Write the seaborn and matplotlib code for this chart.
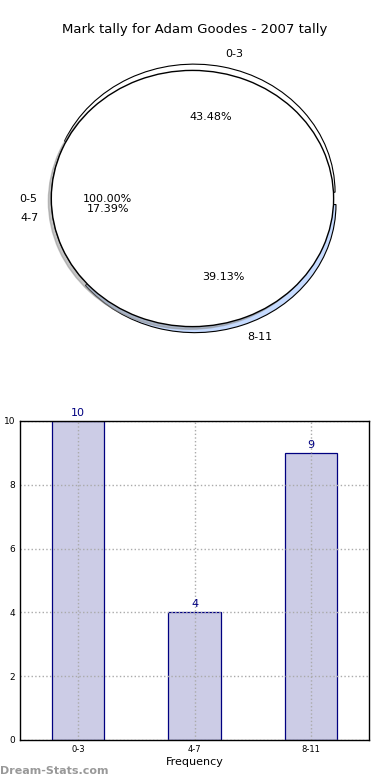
import numpy as np
import pandas as pd
import matplotlib
matplotlib.use("Agg")
import matplotlib.pyplot as plt
import seaborn as sns

# data
mark_bins = ['0-3', '4-7', '8-11']
tallies = [10, 4, 9]
overlay_label = ['0-5']
overlay_value = [1]
slice_colors = ['white', 'white', '#c6dbff']
slice_explode = [0.05, 0.0, 0.05]

sns.set_style("white")
plt.rcParams['font.family'] = ['DejaVu Sans']
plt.rcParams['text.color'] = 'black'
plt.rcParams['axes.labelcolor'] = 'black'
plt.rcParams['xtick.color'] = 'black'
plt.rcParams['ytick.color'] = 'black'

df = pd.DataFrame({'Bin': mark_bins, 'Tally': tallies})

fig = plt.figure(figsize=(3.9, 7.8), dpi=100)

# pie panel
ax1 = fig.add_axes([0.023, 0.532, 0.941, 0.427])
ax1.pie(df['Tally'], labels=df['Bin'], colors=slice_colors, explode=slice_explode,
        autopct='%.2f%%', startangle=0, labeldistance=1.1,
        wedgeprops={'edgecolor': 'black', 'linewidth': 0.8, 'zorder': 0.5},
        textprops={'fontsize': 8})
ax1.pie(overlay_value, labels=overlay_label, colors=['white'], autopct='%.2f%%',
        startangle=0, shadow={'ox': -0.015, 'oy': -0.015, 'shade': 0.45},
        labeldistance=1.1,
        wedgeprops={'edgecolor': 'black', 'linewidth': 1.0},
        textprops={'fontsize': 8})
ax1.set_aspect('auto')
ax1.set_xlim(-1.3, 1.3)
ax1.set_ylim(-1.3, 1.3)
ax1.axis('off')
fig.text(0.5, 1 - 30 / 780, "Mark tally for Adam Goodes - 2007 tally",
         ha='center', va='center', fontsize=9.5)

# bar panel
ax2 = fig.add_axes([0.0513, 0.0513, 0.895, 0.409])
sns.barplot(data=df, x='Bin', y='Tally', ax=ax2, width=0.45,
            color='#ccccE6', edgecolor='navy', linewidth=0.9, saturation=1)
for i, v in enumerate(df['Tally']):
    ax2.text(i, v + 0.1, str(v), ha='center', va='bottom', color='navy', fontsize=8)
ax2.set_xlim(-0.5, 2.5)
ax2.set_ylim(0, 10)
ax2.set_yticks([0, 2, 4, 6, 8, 10])
ax2.set_axisbelow(False)
ax2.grid(True, linestyle=':', color='#aaaaaa', linewidth=1)
for s in ax2.spines.values():
    s.set_color('black')
    s.set_linewidth(1)
    s.set_zorder(4)
ax2.tick_params(axis='x', labelsize=6, direction='in', length=3)
ax2.tick_params(axis='y', labelsize=6.5, direction='in', length=3)
ax2.set_xlabel('Frequency', fontsize=8, labelpad=2)
ax2.set_ylabel('Total Marks', fontsize=7)
ax2.yaxis.set_label_coords(-0.055, 0.5)

fig.text(0.0, 0.005, 'Dream-Stats.com', color='#999999', fontsize=8,
         fontweight='bold', ha='left', va='bottom')

fig.savefig('out.png', dpi=100)
